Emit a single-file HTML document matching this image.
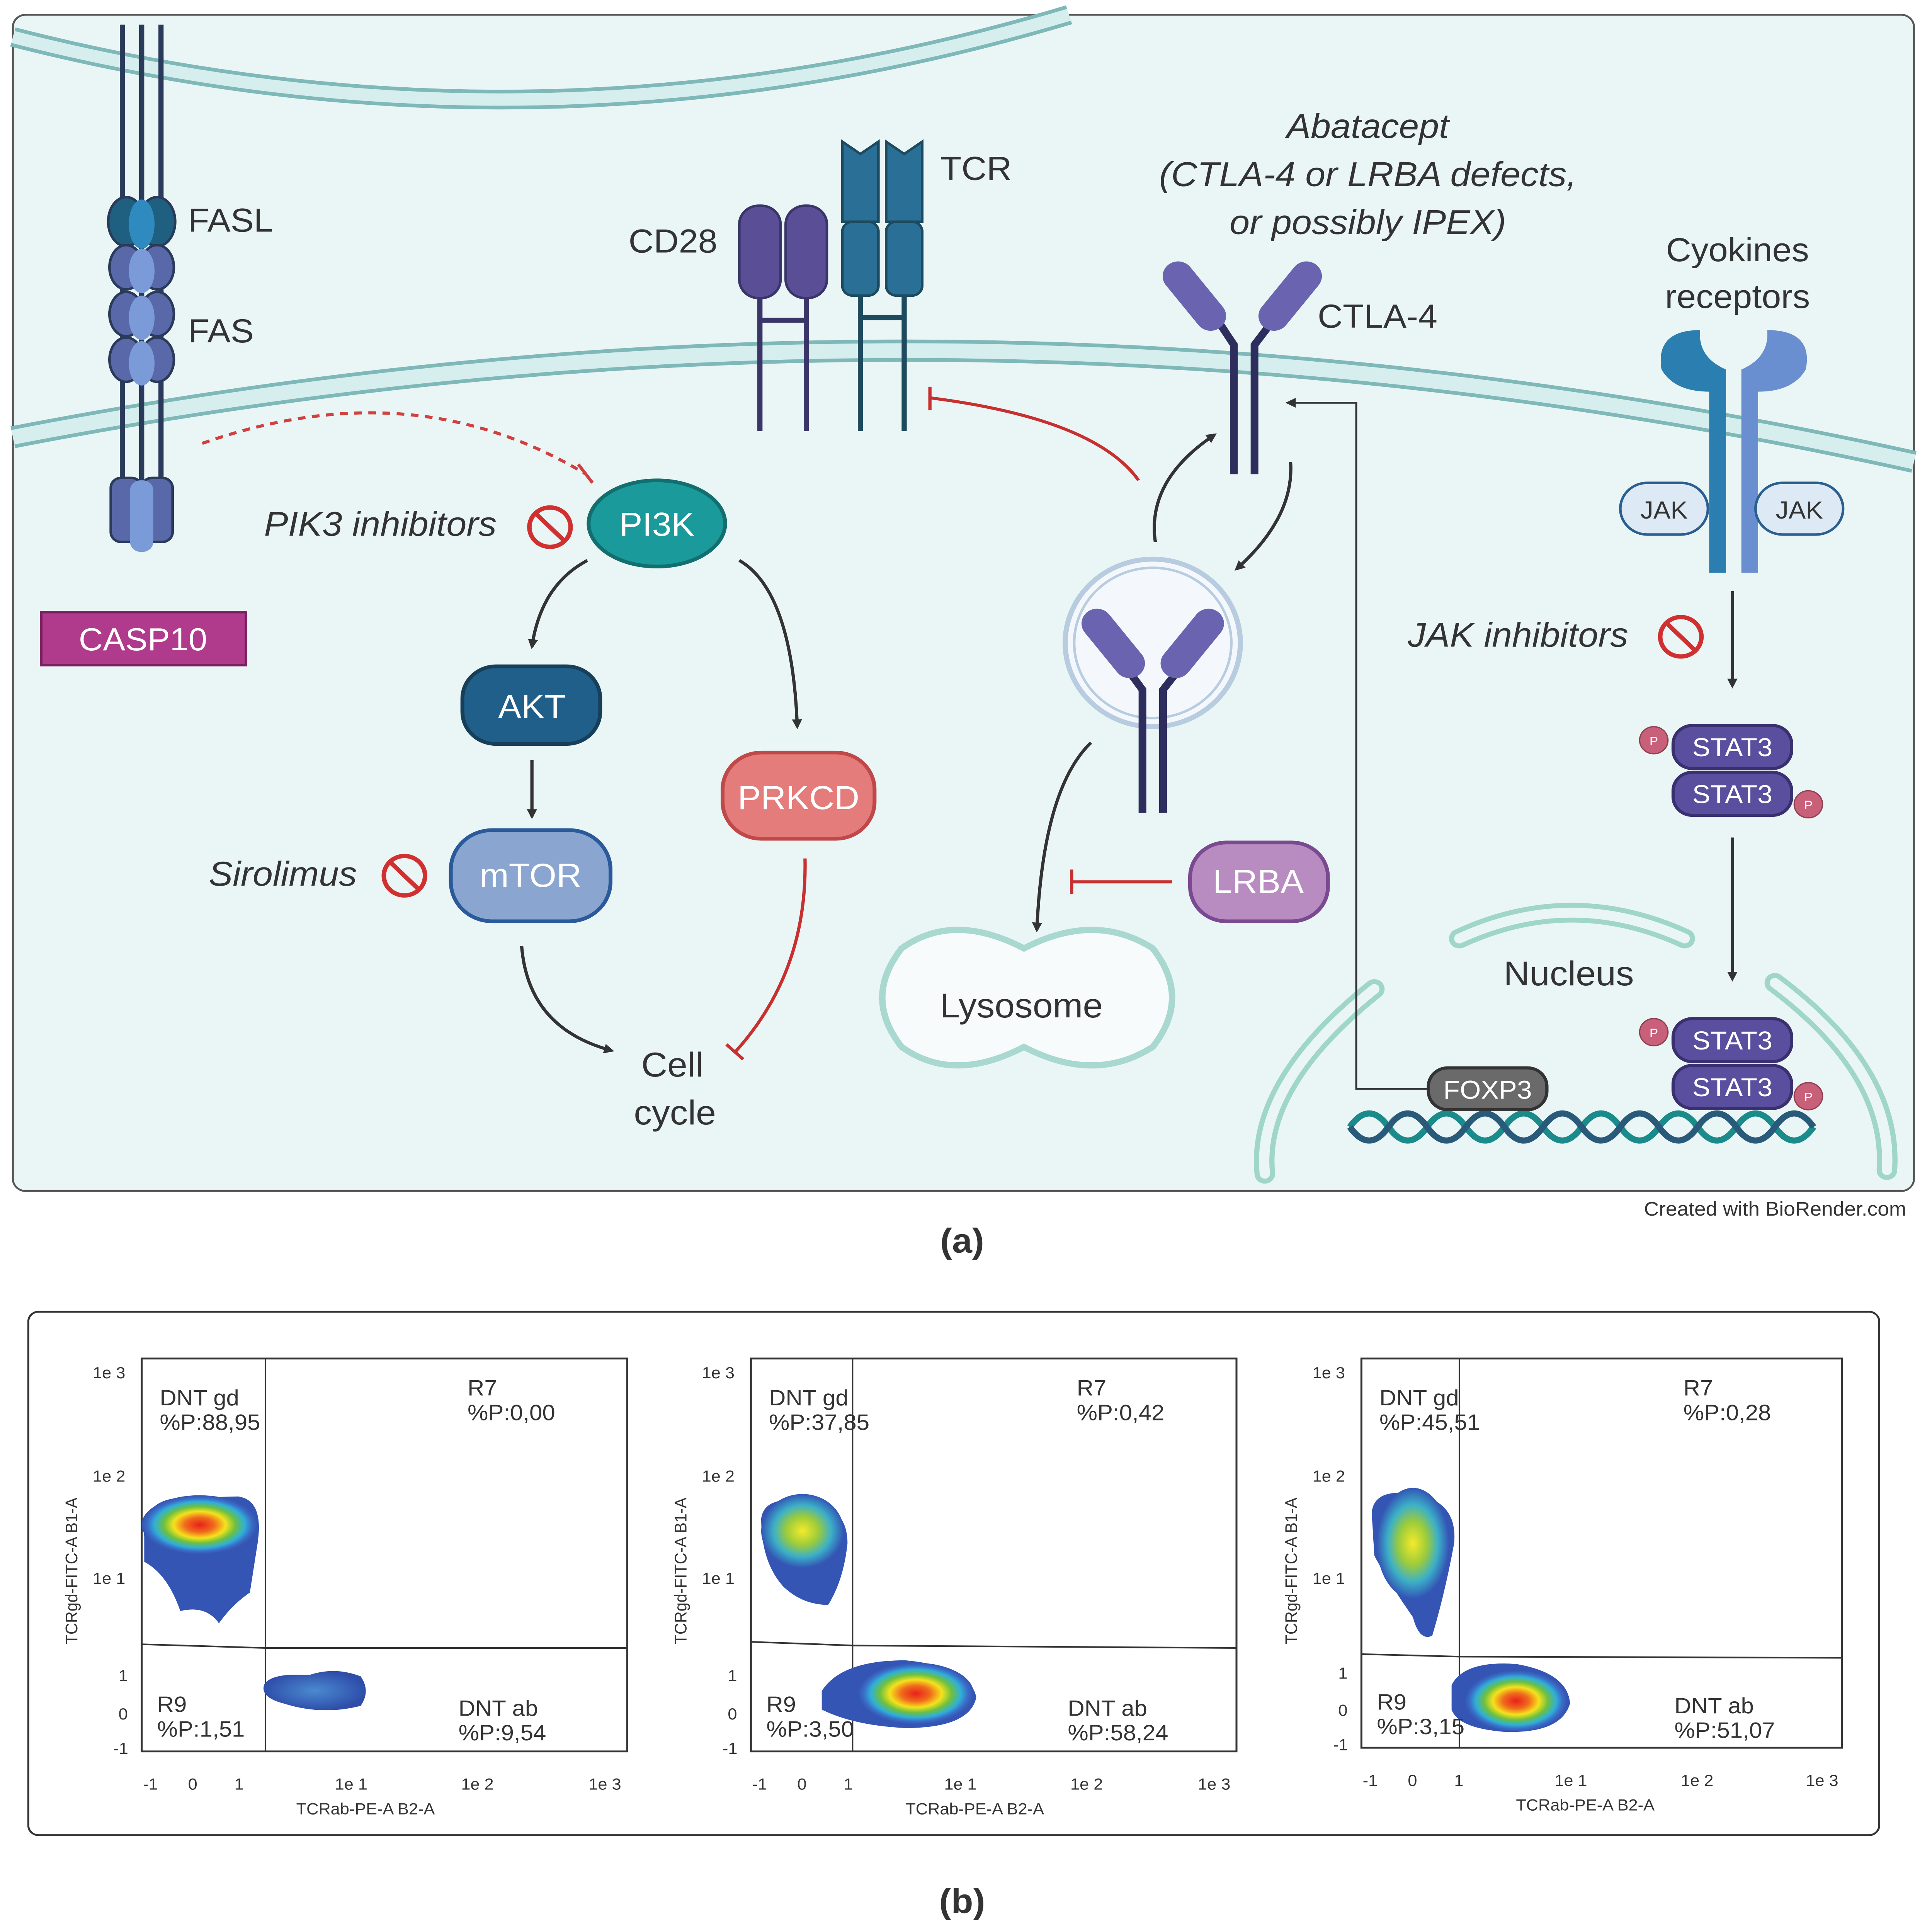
<!DOCTYPE html>
<html><head><meta charset="utf-8"><style>html,body{margin:0;padding:0;background:#fff;width:100%;height:100%;overflow:hidden}svg{display:block;position:fixed;left:0;top:0;width:100vw;height:100vh}</style></head><body>
<svg viewBox="0 0 1500 1568.6" preserveAspectRatio="none" xmlns="http://www.w3.org/2000/svg" font-family="Liberation Sans, sans-serif">
<defs>
<marker id="ah" markerWidth="8" markerHeight="8" refX="6" refY="4" orient="auto" markerUnits="userSpaceOnUse"><path d="M0,0 L8,4 L0,8 z" fill="#333"/></marker>
<radialGradient id="hot"><stop offset="0" stop-color="#e8201c"/><stop offset="0.25" stop-color="#f06a1c"/><stop offset="0.45" stop-color="#f5e21c"/><stop offset="0.62" stop-color="#6cc040"/><stop offset="0.78" stop-color="#2fb0d8"/><stop offset="0.9" stop-color="#3a6cc8"/><stop offset="1" stop-color="#3355b0"/></radialGradient>
<radialGradient id="warm"><stop offset="0" stop-color="#f5ea2a"/><stop offset="0.4" stop-color="#9acb3c"/><stop offset="0.7" stop-color="#3cb0c8"/><stop offset="1" stop-color="#3356b5"/></radialGradient>
<radialGradient id="cool"><stop offset="0" stop-color="#4a8ad0"/><stop offset="1" stop-color="#2f4eaa"/></radialGradient>
</defs>
<rect x="10" y="12" width="1476" height="955" rx="10" fill="#eaf5f5" stroke="#555" stroke-width="1.5"/>
<path d="M10,30 Q420,140 830,12" fill="none" stroke="#7fb8b8" stroke-width="16"/>
<path d="M10,30 Q420,140 830,12" fill="none" stroke="#d6eeee" stroke-width="10"/>
<path d="M10,355 Q750,205 1486,375" fill="none" stroke="#7fb8b8" stroke-width="18"/>
<path d="M10,355 Q750,205 1486,375" fill="none" stroke="#d6eeee" stroke-width="12"/>
<g stroke="#2a3a5a" stroke-width="4">
<line x1="95" y1="20" x2="95" y2="440"/><line x1="110" y1="20" x2="110" y2="440"/><line x1="125" y1="20" x2="125" y2="440"/></g>
<ellipse cx="98" cy="180" rx="14" ry="20" fill="#1f5f80" stroke="#2a3a5a" stroke-width="2"/>
<ellipse cx="122" cy="180" rx="14" ry="20" fill="#1f5f80" stroke="#2a3a5a" stroke-width="2"/>
<ellipse cx="110" cy="182" rx="10" ry="20" fill="#2f8ac0"/>
<g fill="#5868a8" stroke="#2a3a5a" stroke-width="2">
<ellipse cx="98" cy="217" rx="13" ry="18"/><ellipse cx="122" cy="217" rx="13" ry="18"/>
<ellipse cx="98" cy="255" rx="13" ry="18"/><ellipse cx="122" cy="255" rx="13" ry="18"/>
<ellipse cx="98" cy="292" rx="13" ry="18"/><ellipse cx="122" cy="292" rx="13" ry="18"/>
<rect x="86" y="388" width="24" height="52" rx="8"/><rect x="110" y="388" width="24" height="52" rx="8"/></g>
<g fill="#7a9ad8"><ellipse cx="110" cy="220" rx="10" ry="18"/><ellipse cx="110" cy="258" rx="10" ry="18"/><ellipse cx="110" cy="295" rx="10" ry="18"/><rect x="101" y="390" width="18" height="58" rx="8"/></g>
<text x="146" y="188" font-size="27" fill="#333">FASL</text>
<text x="146" y="278" font-size="27" fill="#333">FAS</text>
<rect x="32" y="497" width="159" height="43" fill="#b03a8c" stroke="#7a2060" stroke-width="2"/>
<text x="111" y="528" font-size="26" fill="#fff" text-anchor="middle">CASP10</text>
<g stroke="#3a3568" stroke-width="4"><line x1="590" y1="230" x2="590" y2="350"/><line x1="626" y1="230" x2="626" y2="350"/><line x1="590" y1="260" x2="626" y2="260"/></g>
<rect x="574" y="167" width="32" height="75" rx="15" fill="#5a4e96" stroke="#3a3568" stroke-width="2"/>
<rect x="610" y="167" width="32" height="75" rx="15" fill="#5a4e96" stroke="#3a3568" stroke-width="2"/>
<text x="488" y="205" font-size="27" fill="#333">CD28</text>
<g stroke="#1d4a5e" stroke-width="4"><line x1="668" y1="230" x2="668" y2="350"/><line x1="702" y1="230" x2="702" y2="350"/><line x1="668" y1="258" x2="702" y2="258"/></g>
<g fill="#2a6f96" stroke="#1d4a5e" stroke-width="2">
<path d="M654,115 L668,125 L682,115 L682,180 L654,180 z"/><path d="M688,115 L702,125 L716,115 L716,180 L688,180 z"/>
<rect x="654" y="180" width="28" height="60" rx="8"/><rect x="688" y="180" width="28" height="60" rx="8"/></g>
<text x="730" y="146" font-size="27" fill="#333">TCR</text>
<g font-size="28" fill="#333" font-style="italic" text-anchor="middle">
<text x="1062" y="112">Abatacept</text><text x="1062" y="151">(CTLA-4 or LRBA defects,</text><text x="1062" y="190">or possibly IPEX)</text></g>
<g stroke="#2e2e5e" stroke-width="6" fill="none"><path d="M958,385 L958,280 L944,258"/><path d="M974,385 L974,280 L990,258"/></g>
<rect x="915" y="208" width="24" height="65" rx="12" fill="#6a64b0" transform="rotate(-38 927 240)"/>
<rect x="990" y="208" width="24" height="65" rx="12" fill="#6a64b0" transform="rotate(38 1002 240)"/>
<text x="1023" y="266" font-size="27" fill="#333">CTLA-4</text>
<text x="1349" y="212" font-size="27" fill="#333" text-anchor="middle">Cyokines</text>
<text x="1349" y="250" font-size="27" fill="#333" text-anchor="middle">receptors</text>
<path d="M1290,300 Q1285,268 1320,268 Q1318,290 1340,300 L1340,465 L1327,465 L1327,318 Q1300,318 1290,300z" fill="#2a7fb0"/>
<path d="M1402,300 Q1408,268 1372,268 Q1374,290 1352,300 L1352,465 L1365,465 L1365,318 Q1392,318 1402,300z" fill="#6a8fd0"/>
<rect x="1258" y="392" width="68" height="42" rx="21" fill="#ddeaf6" stroke="#2a5f90" stroke-width="2"/>
<rect x="1363" y="392" width="68" height="42" rx="21" fill="#ddeaf6" stroke="#2a5f90" stroke-width="2"/>
<text x="1292" y="421" font-size="20" fill="#333" text-anchor="middle">JAK</text>
<text x="1397" y="421" font-size="20" fill="#333" text-anchor="middle">JAK</text>
<path d="M157,360 Q320,300 455,385" fill="none" stroke="#d04040" stroke-width="2.5" stroke-dasharray="6,5"/>
<line x1="449" y1="377" x2="460" y2="392" stroke="#d04040" stroke-width="2.5"/>
<ellipse cx="510" cy="425" rx="53" ry="35" fill="#1a9a9a" stroke="#136f6f" stroke-width="3"/>
<text x="510" y="435" font-size="27" fill="#fff" text-anchor="middle">PI3K</text>
<text x="205" y="435" font-size="28" fill="#333" font-style="italic">PIK3 inhibitors</text>
<g stroke="#d03030" stroke-width="3.5" fill="none"><circle cx="427" cy="428" r="16"/><line x1="416" y1="417" x2="438" y2="439"/></g>
<rect x="359" y="541" width="107" height="63" rx="26" fill="#1f5f8a" stroke="#173f5a" stroke-width="3"/>
<text x="413" y="583" font-size="27" fill="#fff" text-anchor="middle">AKT</text>
<rect x="350" y="674" width="124" height="74" rx="32" fill="#8aa6d0" stroke="#2a5a9a" stroke-width="3"/>
<text x="412" y="720" font-size="27" fill="#fff" text-anchor="middle">mTOR</text>
<text x="162" y="719" font-size="28" fill="#333" font-style="italic">Sirolimus</text>
<g stroke="#d03030" stroke-width="3.5" fill="none"><circle cx="314" cy="711" r="16"/><line x1="303" y1="700" x2="325" y2="722"/></g>
<rect x="561" y="611" width="118" height="70" rx="30" fill="#e57c7c" stroke="#c04848" stroke-width="3"/>
<text x="620" y="657" font-size="27" fill="#fff" text-anchor="middle">PRKCD</text>
<text x="522" y="874" font-size="28" fill="#333" text-anchor="middle">Cell</text>
<text x="524" y="913" font-size="28" fill="#333" text-anchor="middle">cycle</text>
<g stroke="#333" stroke-width="2.5" fill="none" marker-end="url(#ah)">
<path d="M456,455 Q420,475 413,525"/><path d="M574,455 Q615,480 619,590"/><line x1="413" y1="617" x2="413" y2="663"/><path d="M405,768 Q410,835 475,853"/>
<path d="M897,440 Q890,390 943,353"/><path d="M1002,375 Q1005,420 960,462"/><path d="M847,603 Q810,640 805,755"/>
<line x1="1345" y1="480" x2="1345" y2="557"/><line x1="1345" y1="680" x2="1345" y2="795"/></g>
<path d="M625,697 Q627,790 570,855" fill="none" stroke="#c83030" stroke-width="2.5"/>
<line x1="564" y1="848" x2="577" y2="860" stroke="#c83030" stroke-width="2.5"/>
<path d="M884,390 Q850,340 722,323" fill="none" stroke="#c83030" stroke-width="2.5"/>
<line x1="722" y1="314" x2="722" y2="333" stroke="#c83030" stroke-width="2.5"/>
<circle cx="895" cy="522" r="68" fill="#f4f8fc" stroke="#b8cce0" stroke-width="4"/>
<circle cx="895" cy="522" r="61" fill="none" stroke="#b8cce0" stroke-width="2"/>
<g stroke="#2e2e5e" stroke-width="6" fill="none"><path d="M887,660 L887,560 L873,540"/><path d="M903,660 L903,560 L918,540"/></g>
<rect x="852" y="490" width="24" height="65" rx="12" fill="#6a64b0" transform="rotate(-38 864 522)"/>
<rect x="914" y="490" width="24" height="65" rx="12" fill="#6a64b0" transform="rotate(38 926 522)"/>
<rect x="924" y="684" width="107" height="64" rx="28" fill="#b88cc0" stroke="#7a4a90" stroke-width="3"/>
<text x="977" y="725" font-size="27" fill="#fff" text-anchor="middle">LRBA</text>
<line x1="910" y1="716" x2="832" y2="716" stroke="#c83030" stroke-width="2.5"/><line x1="832" y1="706" x2="832" y2="726" stroke="#c83030" stroke-width="2.5"/>
<path d="M700,770 Q740,740 795,770 Q850,740 895,770 Q925,810 895,850 Q850,880 795,850 Q740,880 700,850 Q670,810 700,770z" fill="#f8fbfb" stroke="#a8d8d0" stroke-width="5"/>
<text x="793" y="826" font-size="28" fill="#333" text-anchor="middle">Lysosome</text>
<text x="1093" y="525" font-size="28" fill="#333" font-style="italic">JAK inhibitors</text>
<g stroke="#d03030" stroke-width="3.5" fill="none"><circle cx="1305" cy="517" r="16"/><line x1="1294" y1="506" x2="1316" y2="528"/></g>
<g fill="#5a4e9e" stroke="#3a3070" stroke-width="2.5">
<rect x="1299" y="589" width="92" height="35" rx="15"/><rect x="1299" y="627" width="92" height="35" rx="15"/>
<rect x="1299" y="827" width="92" height="35" rx="15"/><rect x="1299" y="865" width="92" height="35" rx="15"/></g>
<g font-size="21" fill="#fff" text-anchor="middle"><text x="1345" y="614">STAT3</text><text x="1345" y="652">STAT3</text><text x="1345" y="852">STAT3</text><text x="1345" y="890">STAT3</text></g>
<g fill="#c8607a" stroke="#904050"><circle cx="1284" cy="601" r="11"/><circle cx="1404" cy="653" r="11"/><circle cx="1284" cy="838" r="11"/><circle cx="1404" cy="890" r="11"/></g>
<g font-size="10" fill="#fff" text-anchor="middle"><text x="1284" y="605">P</text><text x="1404" y="657">P</text><text x="1284" y="842">P</text><text x="1404" y="894">P</text></g>
<g fill="none" stroke="#9fd6c8" stroke-width="16" stroke-linecap="round">
<path d="M1133,762 Q1220,720 1308,762"/><path d="M1067,803 Q975,880 982,953"/><path d="M1378,798 Q1470,870 1465,950"/></g>
<g fill="none" stroke="#eaf5f5" stroke-width="8" stroke-linecap="round">
<path d="M1133,762 Q1220,720 1308,762"/><path d="M1067,803 Q975,880 982,953"/><path d="M1378,798 Q1470,870 1465,950"/></g>
<text x="1218" y="800" font-size="28" fill="#333" text-anchor="middle">Nucleus</text>
<path d="M1048,915 q15,-22 30,0 t30,0 t30,0 t30,0 t30,0 t30,0 t30,0 t30,0 t30,0 t30,0 t30,0 t30,0" fill="none" stroke="#1a8a8a" stroke-width="5"/>
<path d="M1048,915 q15,22 30,0 t30,0 t30,0 t30,0 t30,0 t30,0 t30,0 t30,0 t30,0 t30,0 t30,0 t30,0" fill="none" stroke="#2a5a7a" stroke-width="5"/>
<rect x="1109" y="867" width="92" height="34" rx="15" fill="#6a6a6a" stroke="#333" stroke-width="2.5"/>
<text x="1155" y="892" font-size="21" fill="#fff" text-anchor="middle">FOXP3</text>
<polyline points="1109,884 1053,884 1053,327 1000,327" fill="none" stroke="#333" stroke-width="1.5" marker-end="url(#ah)"/>
<text x="1480" y="987" font-size="16" fill="#333" text-anchor="end">Created with BioRender.com</text>
<text x="747" y="1017" font-size="28" fill="#333" font-weight="bold" text-anchor="middle">(a)</text>
<rect x="22" y="1065" width="1437" height="425" rx="8" fill="#fff" stroke="#333" stroke-width="1.5"/>
<g transform="translate(110,1103)">
<rect x="0" y="0" width="377" height="319" fill="none" stroke="#333" stroke-width="1.5"/>
<line x1="96" y1="0" x2="96" y2="319" stroke="#333"/><polyline points="0,232 96,235 377,235" fill="none" stroke="#333" stroke-width="1.3"/>
<path d="M2,145 Q0,115 30,113 L75,112 Q95,115 90,150 L84,190 Q70,200 60,215 Q50,200 30,205 Q20,175 2,165z" fill="#3555b5"/>
<ellipse cx="45" cy="135" rx="45" ry="24" fill="url(#hot)"/>
<path d="M95,265 Q100,255 130,257 Q150,250 170,258 Q178,270 170,282 Q140,290 110,280 Q92,275 95,265z" fill="url(#cool)"/>
<g font-size="18" fill="#333"><text x="14" y="38">DNT gd</text><text x="14" y="58">%P:88,95</text><text x="253" y="30">R7</text><text x="253" y="50">%P:0,00</text>
<text x="12" y="287">R9</text><text x="12" y="307">%P:1,51</text><text x="246" y="290">DNT ab</text><text x="246" y="310">%P:9,54</text></g>
<g font-size="13" fill="#333"><text x="-38" y="16">1e 3</text><text x="-38" y="100">1e 2</text><text x="-38" y="183">1e 1</text><text x="-18" y="262">1</text><text x="-18" y="293">0</text><text x="-22" y="321">-1</text>
<text x="1" y="350">-1</text><text x="36" y="350">0</text><text x="72" y="350">1</text><text x="150" y="350">1e 1</text><text x="248" y="350">1e 2</text><text x="347" y="350">1e 3</text>
<text x="120" y="370">TCRab-PE-A B2-A</text><text transform="translate(-50,232) rotate(-90)">TCRgd-FITC-A B1-A</text></g>
</g>
<g transform="translate(583,1103)">
<rect x="0" y="0" width="377" height="319" fill="none" stroke="#333" stroke-width="1.5"/>
<line x1="79" y1="0" x2="79" y2="319" stroke="#333"/><polyline points="0,230 79,233 377,235" fill="none" stroke="#333" stroke-width="1.3"/>
<path d="M8,130 Q10,112 40,115 Q75,118 75,150 Q72,180 60,200 Q40,200 25,185 Q8,165 8,130z" fill="#3555b5"/>
<ellipse cx="40" cy="140" rx="32" ry="30" fill="url(#warm)"/>
<path d="M55,270 Q70,245 120,245 Q170,250 175,275 Q170,300 120,300 Q80,298 55,285z" fill="#3555b5"/>
<ellipse cx="128" cy="272" rx="45" ry="25" fill="url(#hot)"/>
<g font-size="18" fill="#333"><text x="14" y="38">DNT gd</text><text x="14" y="58">%P:37,85</text><text x="253" y="30">R7</text><text x="253" y="50">%P:0,42</text>
<text x="12" y="287">R9</text><text x="12" y="307">%P:3,50</text><text x="246" y="290">DNT ab</text><text x="246" y="310">%P:58,24</text></g>
<g font-size="13" fill="#333"><text x="-38" y="16">1e 3</text><text x="-38" y="100">1e 2</text><text x="-38" y="183">1e 1</text><text x="-18" y="262">1</text><text x="-18" y="293">0</text><text x="-22" y="321">-1</text>
<text x="1" y="350">-1</text><text x="36" y="350">0</text><text x="72" y="350">1</text><text x="150" y="350">1e 1</text><text x="248" y="350">1e 2</text><text x="347" y="350">1e 3</text>
<text x="120" y="370">TCRab-PE-A B2-A</text><text transform="translate(-50,232) rotate(-90)">TCRgd-FITC-A B1-A</text></g>
</g>
<g transform="translate(1057,1103)">
<rect x="0" y="0" width="373" height="316" fill="none" stroke="#333" stroke-width="1.5"/>
<line x1="76" y1="0" x2="76" y2="316" stroke="#333"/><polyline points="0,240 76,242 373,243" fill="none" stroke="#333" stroke-width="1.3"/>
<path d="M8,125 Q10,105 40,110 Q75,115 72,150 Q65,190 55,225 Q45,230 40,210 Q20,180 10,160z" fill="#3555b5"/>
<ellipse cx="40" cy="150" rx="28" ry="45" fill="url(#warm)"/>
<path d="M70,265 Q80,245 120,248 Q160,255 162,280 Q155,305 110,303 Q75,300 70,285z" fill="#3555b5"/>
<ellipse cx="120" cy="278" rx="40" ry="25" fill="url(#hot)"/>
<g font-size="18" fill="#333"><text x="14" y="38">DNT gd</text><text x="14" y="58">%P:45,51</text><text x="250" y="30">R7</text><text x="250" y="50">%P:0,28</text>
<text x="12" y="285">R9</text><text x="12" y="305">%P:3,15</text><text x="243" y="288">DNT ab</text><text x="243" y="308">%P:51,07</text></g>
<g font-size="13" fill="#333"><text x="-38" y="16">1e 3</text><text x="-38" y="100">1e 2</text><text x="-38" y="183">1e 1</text><text x="-18" y="260">1</text><text x="-18" y="290">0</text><text x="-22" y="318">-1</text>
<text x="1" y="347">-1</text><text x="36" y="347">0</text><text x="72" y="347">1</text><text x="150" y="347">1e 1</text><text x="248" y="347">1e 2</text><text x="345" y="347">1e 3</text>
<text x="120" y="367">TCRab-PE-A B2-A</text><text transform="translate(-50,232) rotate(-90)">TCRgd-FITC-A B1-A</text></g>
</g>
<text x="747" y="1553" font-size="28" fill="#333" font-weight="bold" text-anchor="middle">(b)</text>
</svg>
</body></html>
